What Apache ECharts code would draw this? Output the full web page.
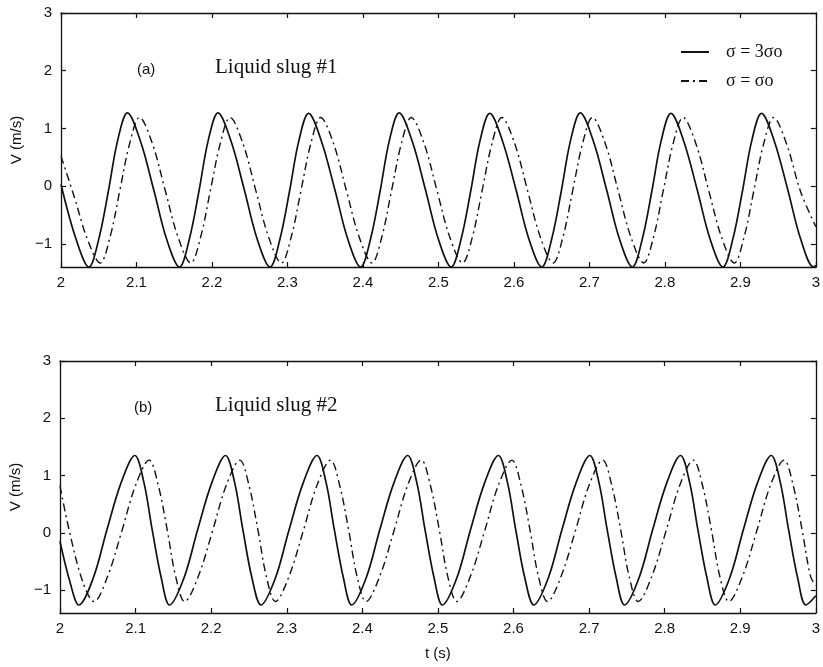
<!DOCTYPE html>
<html>
<head>
<meta charset="utf-8">
<script src="https://cdn.jsdelivr.net/npm/echarts@6/dist/echarts.min.js"></script>
<style>
html,body{margin:0;padding:0;background:#fff;}
#c{width:823px;height:667px;}
</style>
</head>
<body>
<div id="c"></div>
<script>
// ---- data: [t (s), V (m/s)] ----
const solidA = [
 [2.000,0.03],[2.020,-0.92],[2.037,-1.40],
 [2.050,-0.92],[2.063,-0.07],[2.075,0.79],[2.088,1.27],[2.105,0.79],[2.123,-0.07],[2.140,-0.92],[2.157,-1.40],
 [2.170,-0.92],[2.183,-0.07],[2.195,0.79],[2.208,1.27],[2.225,0.79],[2.243,-0.07],[2.260,-0.92],[2.277,-1.40],
 [2.290,-0.92],[2.303,-0.07],[2.315,0.78],[2.328,1.26],[2.345,0.78],[2.363,-0.07],[2.380,-0.92],[2.397,-1.40],
 [2.410,-0.92],[2.423,-0.07],[2.435,0.79],[2.448,1.27],[2.465,0.79],[2.483,-0.07],[2.500,-0.92],[2.517,-1.40],
 [2.530,-0.92],[2.543,-0.07],[2.555,0.78],[2.568,1.26],[2.585,0.78],[2.603,-0.07],[2.620,-0.92],[2.637,-1.40],
 [2.650,-0.92],[2.663,-0.07],[2.675,0.79],[2.688,1.27],[2.705,0.79],[2.723,-0.07],[2.740,-0.92],[2.757,-1.40],
 [2.770,-0.92],[2.783,-0.07],[2.795,0.78],[2.808,1.26],[2.825,0.78],[2.843,-0.07],[2.860,-0.92],[2.877,-1.40],
 [2.890,-0.92],[2.903,-0.07],[2.915,0.78],[2.928,1.26],[2.945,0.78],[2.963,-0.07],[2.980,-0.92],[2.997,-1.40],
 [3.000,-1.37]
];
const dashA = [
 [2.000,0.52],[2.018,-0.20],[2.035,-0.92],[2.052,-1.33],
 [2.065,-0.88],[2.078,-0.07],[2.091,0.74],[2.104,1.19],[2.121,0.74],[2.138,-0.07],[2.155,-0.88],[2.172,-1.33],
 [2.185,-0.88],[2.198,-0.07],[2.211,0.74],[2.224,1.19],[2.241,0.74],[2.258,-0.07],[2.275,-0.88],[2.292,-1.33],
 [2.305,-0.88],[2.318,-0.07],[2.331,0.74],[2.344,1.19],[2.361,0.74],[2.378,-0.07],[2.395,-0.88],[2.412,-1.33],
 [2.425,-0.88],[2.438,-0.07],[2.451,0.74],[2.464,1.19],[2.481,0.74],[2.498,-0.07],[2.515,-0.88],[2.532,-1.33],
 [2.545,-0.88],[2.558,-0.07],[2.571,0.74],[2.584,1.19],[2.601,0.74],[2.618,-0.07],[2.635,-0.88],[2.652,-1.33],
 [2.665,-0.88],[2.678,-0.07],[2.691,0.74],[2.704,1.19],[2.721,0.74],[2.738,-0.07],[2.755,-0.88],[2.772,-1.33],
 [2.785,-0.88],[2.798,-0.07],[2.811,0.74],[2.824,1.19],[2.841,0.74],[2.858,-0.07],[2.875,-0.88],[2.892,-1.33],
 [2.905,-0.88],[2.918,-0.07],[2.931,0.74],[2.944,1.19],[2.961,0.74],[2.980,-0.10],[3.000,-0.70]
];
const solidB = [
 [2.000,-0.15],[2.013,-0.85],[2.025,-1.26],
 [2.044,-0.79],[2.062,0.05],[2.081,0.88],[2.099,1.35],[2.111,0.88],[2.122,0.05],[2.134,-0.79],[2.145,-1.26],
 [2.164,-0.79],[2.182,0.05],[2.201,0.88],[2.219,1.35],[2.231,0.88],[2.242,0.05],[2.254,-0.79],[2.266,-1.26],
 [2.285,-0.79],[2.303,0.05],[2.322,0.88],[2.340,1.35],[2.352,0.88],[2.363,0.05],[2.375,-0.79],[2.386,-1.26],
 [2.405,-0.79],[2.423,0.05],[2.442,0.88],[2.460,1.35],[2.472,0.88],[2.483,0.05],[2.495,-0.79],[2.506,-1.26],
 [2.525,-0.79],[2.543,0.05],[2.562,0.88],[2.580,1.35],[2.592,0.88],[2.603,0.05],[2.615,-0.79],[2.627,-1.26],
 [2.646,-0.79],[2.664,0.05],[2.683,0.88],[2.701,1.35],[2.713,0.88],[2.724,0.05],[2.736,-0.79],[2.747,-1.26],
 [2.766,-0.79],[2.784,0.05],[2.803,0.88],[2.821,1.35],[2.833,0.88],[2.844,0.05],[2.856,-0.79],[2.867,-1.26],
 [2.886,-0.79],[2.904,0.05],[2.923,0.88],[2.941,1.35],[2.953,0.88],[2.964,0.05],[2.976,-0.79],[2.987,-1.26],
 [3.000,-1.10]
];
const dashB = [
 [2.000,0.82],[2.012,0.05],[2.030,-0.85],[2.045,-1.20],
 [2.063,-0.76],[2.082,0.04],[2.100,0.83],[2.118,1.27],[2.130,0.83],[2.142,0.04],[2.153,-0.76],[2.165,-1.20],
 [2.183,-0.76],[2.202,0.04],[2.220,0.83],[2.238,1.27],[2.250,0.83],[2.262,0.04],[2.273,-0.76],[2.285,-1.20],
 [2.303,-0.76],[2.322,0.04],[2.340,0.83],[2.358,1.27],[2.370,0.83],[2.382,0.04],[2.393,-0.76],[2.405,-1.20],
 [2.423,-0.76],[2.442,0.04],[2.460,0.83],[2.478,1.27],[2.490,0.83],[2.502,0.04],[2.513,-0.76],[2.525,-1.20],
 [2.543,-0.76],[2.562,0.04],[2.580,0.83],[2.598,1.27],[2.610,0.83],[2.622,0.04],[2.633,-0.76],[2.645,-1.20],
 [2.663,-0.76],[2.682,0.04],[2.700,0.83],[2.718,1.27],[2.730,0.83],[2.742,0.04],[2.753,-0.76],[2.765,-1.20],
 [2.783,-0.76],[2.802,0.04],[2.820,0.83],[2.838,1.27],[2.850,0.83],[2.862,0.04],[2.873,-0.76],[2.885,-1.20],
 [2.903,-0.76],[2.922,0.04],[2.940,0.83],[2.958,1.27],[2.970,0.83],[2.982,0.04],[2.993,-0.76],[3.000,-0.92]
];
const yTicks = [-1, 0, 1, 2, 3];
const seriesNames = ['σ = 3σo', 'σ = σo'];
const panelTags = ['(a)', '(b)'];
const panelTitles = ['Liquid slug #1', 'Liquid slug #2'];

const INK = '#111111';
const SANS = 'Liberation Sans, Arial, sans-serif';
const SERIF = 'Liberation Serif, Times New Roman, serif';
const DASHDOT = [8, 4, 2, 4];

function fmt(v) { return String(v).replace('-', '\u2212'); }

function xAx(grid, pos, showLabel, name) {
  return {
    type: 'value', gridIndex: grid, position: pos, min: 2, max: 3, interval: 0.1,
    axisLine: {show: true, onZero: false, lineStyle: {color: INK, width: 1.3}},
    axisTick: {show: true, inside: true, length: 5, lineStyle: {color: INK, width: 1.2}},
    axisLabel: {show: showLabel, fontFamily: SANS, fontSize: 15, color: INK, margin: 8},
    splitLine: {show: false},
    name: name || '', nameLocation: 'middle', nameGap: 33,
    nameTextStyle: {fontFamily: SANS, fontSize: 15, color: INK}
  };
}
function yAx(grid, pos, showLabel, name) {
  return {
    type: 'value', gridIndex: grid, position: pos, min: -1.4, max: 3,
    axisLine: {show: true, onZero: false, lineStyle: {color: INK, width: 1.3}},
    axisTick: {show: true, inside: true, length: 5, customValues: yTicks, lineStyle: {color: INK, width: 1.2}},
    axisLabel: {show: showLabel, customValues: yTicks, formatter: fmt, fontFamily: SANS, fontSize: 15, color: INK, margin: 9},
    splitLine: {show: false},
    name: name || '', nameLocation: 'middle', nameGap: 36,
    nameTextStyle: {fontFamily: SANS, fontSize: 15, color: INK}
  };
}
function line(name, data, xi, yi, dashed) {
  return {
    name: name, type: 'line', xAxisIndex: xi, yAxisIndex: yi, data: data,
    symbol: 'none', smooth: 0.35, clip: true, silent: true,
    lineStyle: {color: INK, width: dashed ? 1.4 : 1.7, type: dashed ? DASHDOT : 'solid'},
    itemStyle: {color: INK}
  };
}

const chart = echarts.init(document.getElementById('c'), null, {renderer: 'canvas'});
chart.setOption({
  animation: false,
  backgroundColor: '#fff',
  grid: [
    {left: 61, right: 1, top: 13, height: 254},
    {left: 59, right: 2, top: 361, height: 252}
  ],
  xAxis: [xAx(0, 'bottom', true), xAx(0, 'top', false), xAx(1, 'bottom', true, 't (s)'), xAx(1, 'top', false)],
  yAxis: [yAx(0, 'left', true, 'V (m/s)'), yAx(0, 'right', false), yAx(1, 'left', true, 'V (m/s)'), yAx(1, 'right', false)],
  legend: {
    data: seriesNames, orient: 'vertical', left: 680, top: 43, padding: 0, itemGap: 11,
    itemWidth: 28, itemHeight: 14, selectedMode: false,
    itemStyle: {color: 'rgba(0,0,0,0)', borderWidth: 0, opacity: 0},
    textStyle: {fontFamily: SERIF, fontSize: 18, color: INK, padding: [0, 0, 0, 12]}
  },
  graphic: [
    {type: 'text', left: 137, top: 62, style: {text: panelTags[0], font: '15px ' + SANS, fill: INK}},
    {type: 'text', left: 215, top: 57, style: {text: panelTitles[0], font: '21px ' + SERIF, fill: INK}},
    {type: 'text', left: 134, top: 400, style: {text: panelTags[1], font: '15px ' + SANS, fill: INK}},
    {type: 'text', left: 215, top: 395, style: {text: panelTitles[1], font: '21px ' + SERIF, fill: INK}}
  ],
  series: [
    line(seriesNames[0], solidA, 0, 0, false),
    line(seriesNames[1], dashA, 0, 0, true),
    line(seriesNames[0], solidB, 2, 2, false),
    line(seriesNames[1], dashB, 2, 2, true)
  ]
});
</script>
</body>
</html>
